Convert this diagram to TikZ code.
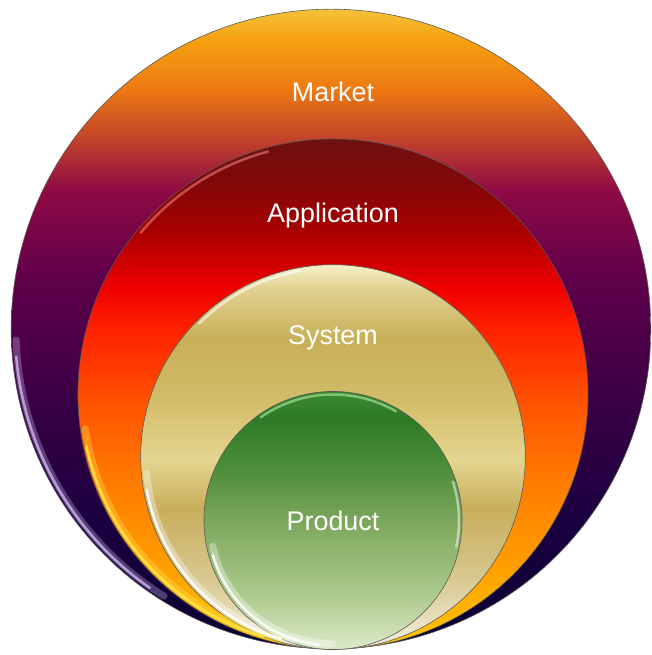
\documentclass[tikz,border=0pt]{standalone}
\usepackage{fontspec}
\setmainfont{Liberation Sans}

\definecolor{mk0}{HTML}{0A0030}
\definecolor{mk1}{HTML}{1A0040}
\definecolor{mk2}{HTML}{3A0045}
\definecolor{mk3}{HTML}{60004A}
\definecolor{mk4}{HTML}{8E0A44}
\definecolor{mk5}{HTML}{C0402C}
\definecolor{mk6}{HTML}{EE7A12}
\definecolor{mk7}{HTML}{F5A010}
\definecolor{mk8}{HTML}{F6C23A}
\definecolor{ap0}{HTML}{FFC800}
\definecolor{ap1}{HTML}{FF9A00}
\definecolor{ap2}{HTML}{FF7A00}
\definecolor{ap3}{HTML}{FF5000}
\definecolor{ap4}{HTML}{FF2000}
\definecolor{ap5}{HTML}{F00000}
\definecolor{ap6}{HTML}{A80000}
\definecolor{ap7}{HTML}{800808}
\definecolor{ap8}{HTML}{701010}
\definecolor{sy0}{HTML}{F4F0E0}
\definecolor{sy1}{HTML}{D8C890}
\definecolor{sy2}{HTML}{C8AE5C}
\definecolor{sy3}{HTML}{E4D690}
\definecolor{sy4}{HTML}{D2BC68}
\definecolor{sy5}{HTML}{C8B058}
\definecolor{sy6}{HTML}{E0D090}
\definecolor{sy7}{HTML}{F5F0C8}
\definecolor{pr0}{HTML}{DCEAC8}
\definecolor{pr1}{HTML}{B0CC90}
\definecolor{pr2}{HTML}{80AA60}
\definecolor{pr3}{HTML}{4E8E3A}
\definecolor{pr4}{HTML}{2E7A26}
\definecolor{pr5}{HTML}{3A8A30}
\definecolor{mkrim}{HTML}{C8B0E6}
\definecolor{aprim}{HTML}{FFE650}
\definecolor{aptop}{HTML}{FF9696}
\definecolor{prtop}{HTML}{A0DC96}

\pgfdeclareverticalshading{marketfill}{100bp}{color(0bp)=(mk0); color(25bp)=(mk0); color(35bp)=(mk1); color(44.5bp)=(mk2); color(54bp)=(mk3); color(60.8bp)=(mk4); color(64.7bp)=(mk5); color(68.8bp)=(mk6); color(72.5bp)=(mk7); color(75bp)=(mk8); color(100bp)=(mk8)}
\pgfdeclareverticalshading{applfill}{100bp}{color(0bp)=(ap0); color(25bp)=(ap0); color(34bp)=(ap1); color(41.7bp)=(ap2); color(49.5bp)=(ap3); color(56.5bp)=(ap4); color(60.3bp)=(ap5); color(66bp)=(ap6); color(71bp)=(ap7); color(75bp)=(ap8); color(100bp)=(ap8)}
\pgfdeclareverticalshading{sysfill}{100bp}{color(0bp)=(sy0); color(25bp)=(sy0); color(34.2bp)=(sy1); color(43.3bp)=(sy2); color(49.7bp)=(sy3); color(57.5bp)=(sy4); color(65.3bp)=(sy5); color(71.8bp)=(sy6); color(75bp)=(sy7); color(100bp)=(sy7)}
\pgfdeclareverticalshading{prodfill}{100bp}{color(0bp)=(pr0); color(25bp)=(pr0); color(35bp)=(pr1); color(48.5bp)=(pr2); color(60bp)=(pr3); color(69.8bp)=(pr4); color(75bp)=(pr5); color(100bp)=(pr5)}

\begin{document}
\begin{tikzpicture}[x=1bp,y=1bp]
    \tikzstyle{ring}=[circle,inner sep=0pt,outer sep=0pt,draw=black!65,line width=0.6pt,shade]
    \tikzstyle{tag}=[text=white,font=\fontsize{27}{32}\selectfont]
    \tikzstyle{glint}=[line width=2.5pt,line cap=round,opacity=0.85]
    \tikzstyle{haze}=[line width=7pt,line cap=round,opacity=0.35]
    \useasboundingbox (0,0) rectangle (652,655);

    % nested rings, all touching at the bottom
    \node[ring,shading=marketfill,minimum size=642] (market) at (331,326)   {};
    \node[ring,shading=applfill,minimum size=512]   (appl)   at (333,261)   {};
    \node[ring,shading=sysfill,minimum size=386]    (sys)    at (333,198)   {};
    \node[ring,shading=prodfill,minimum size=259]   (prod)   at (333,134.5) {};

    % glossy rims
    \draw[haze,mkrim]  (market.center) ++(182:315) arc[start angle=182,end angle=238,radius=315];
    \draw[glint,mkrim] (market.center) ++(185:316) arc[start angle=185,end angle=235,radius=316];
    \draw[haze,aprim]  (appl.center) ++(188:250) arc[start angle=188,end angle=258,radius=250];
    \draw[glint,aprim] (appl.center) ++(192:252) arc[start angle=192,end angle=254,radius=252];
    \draw[glint,aptop,opacity=0.5] (appl.center) ++(105:251) arc[start angle=105,end angle=140,radius=251];
    \draw[haze,white]  (sys.center) ++(185:187) arc[start angle=185,end angle=258,radius=187];
    \draw[glint,white] (sys.center) ++(190:189) arc[start angle=190,end angle=254,radius=189];
    \draw[glint,white,opacity=0.6] (sys.center) ++(100:189) arc[start angle=100,end angle=135,radius=189];
    \draw[haze,white]  (prod.center) ++(192:123) arc[start angle=192,end angle=270,radius=123];
    \draw[glint,white] (prod.center) ++(196:125) arc[start angle=196,end angle=264,radius=125];
    \draw[glint,white,opacity=0.5] (prod.center) ++(-12:126) arc[start angle=-12,end angle=18,radius=126];
    \draw[glint,prtop,opacity=0.7] (prod.center) ++(60:126) arc[start angle=60,end angle=125,radius=126];

    % labels
    \node[tag] (marketlabel) at (333,563) {Market};
    \node[tag] (appllabel)   at (333,439) {Application};
    \node[tag] (syslabel)    at (333,317) {System};
    \node[tag] (prodlabel)   at (333,134) {Product};
\end{tikzpicture}
\end{document}
